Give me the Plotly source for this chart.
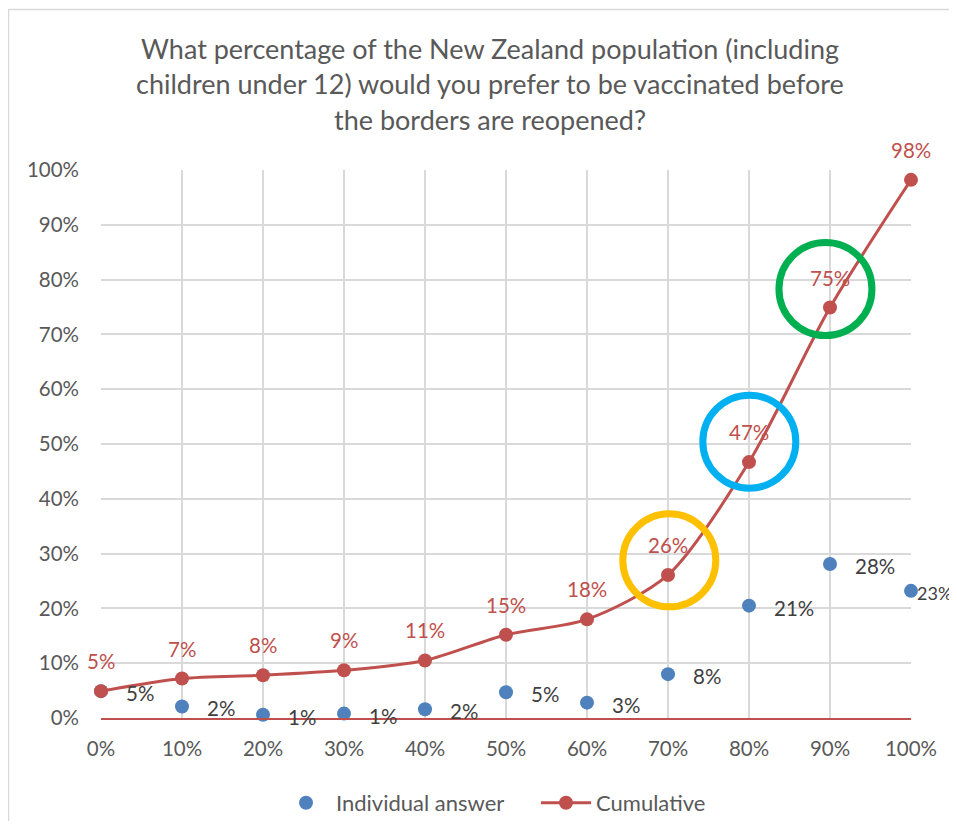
import plotly.graph_objects as go

# ---- data ----
categories = [0.0, 0.1, 0.2, 0.3, 0.4, 0.5, 0.6, 0.7, 0.8, 0.9, 1.0]
individual = [0.049, 0.021, 0.006, 0.008, 0.016, 0.047, 0.028, 0.080, 0.205, 0.281, 0.232]
cumulative = [0.049, 0.072, 0.078, 0.087, 0.105, 0.152, 0.180, 0.261, 0.467, 0.749, 0.982]
individual_labels = ["5%", "2%", "1%", "1%", "2%", "5%", "3%", "8%", "21%", "28%", "23%"]
cumulative_labels = ["5%", "7%", "8%", "9%", "11%", "15%", "18%", "26%", "47%", "75%", "98%"]
title_lines = ["What percentage of the New Zealand population (including",
               "children under 12) would you prefer to be vaccinated before",
               "the borders are reopened?"]
# highlighted points: (x, y, colour)
highlights = [(0.7016, 0.2878, "#FFC000"), (0.8004, 0.5042, "#00B0F0"), (0.8944, 0.7828, "#00B050")]

FONT = "Lato"
BLUE = "#4F81BD"
RED = "#C0504D"
GRID = "#D9D9D9"
TXT = "#595959"

# page has an 8px body margin; plot area sits at image px 101..911 x 170..718
PL, PR, PT, PB = 101, 911, 170, 718
PW, PH = PR - PL, PB - PT
OFF = 8
W, H = 957 - OFF, 837 - 3 * OFF


def px2paper_x(px):
    return (px - PL) / PW


def px2paper_y(py):
    return (PB - py) / PH


fig = go.Figure()
fig.add_trace(go.Scatter(
    x=categories, y=individual, mode="markers", name="Individual answer",
    marker=dict(color=BLUE, size=14), cliponaxis=False))
fig.add_trace(go.Scatter(
    x=categories, y=cumulative, mode="lines+markers", name="Cumulative",
    line=dict(color=RED, width=3, shape="spline", smoothing=0.8),
    marker=dict(color=RED, size=14), cliponaxis=False))

anns = []
last = len(categories) - 1
for i, (x, y, t) in enumerate(zip(categories, individual, individual_labels)):
    anns.append(dict(x=x, y=y, xref="x", yref="y", text=t, showarrow=False,
                     xanchor="left", yanchor="middle",
                     xshift=(4 if i == last else 23), yshift=-2,
                     font=dict(family=FONT, size=(18 if i == last else 20.5), color="#404040")))
for x, y, t in zip(categories, cumulative, cumulative_labels):
    anns.append(dict(x=x, y=y, xref="x", yref="y", text=t, showarrow=False,
                     xanchor="center", yanchor="middle", yshift=30,
                     font=dict(family=FONT, size=20.5, color=RED)))
for k, line in enumerate(title_lines):
    anns.append(dict(x=px2paper_x(489.5), y=px2paper_y(48 + 35.5 * k), xref="paper", yref="paper",
                     text=line, showarrow=False, xanchor="center", yanchor="middle",
                     font=dict(family=FONT, size=27, color=TXT)))

shapes = []
for cx, cy, col in highlights:
    shapes.append(dict(type="circle", xref="x", yref="y", xsizemode="pixel", ysizemode="pixel",
                       xanchor=cx, yanchor=cy, x0=-46.5, x1=46.5, y0=-46.5, y1=46.5,
                       line=dict(color=col, width=7), layer="above"))
# chart-area border (left and top edges visible)
shapes.append(dict(type="line", xref="paper", yref="paper",
                   x0=px2paper_x(8.5), x1=px2paper_x(8.5), y0=px2paper_y(9), y1=px2paper_y(900),
                   line=dict(color=GRID, width=1.5)))
shapes.append(dict(type="line", xref="paper", yref="paper",
                   x0=px2paper_x(8.5), x1=px2paper_x(1000), y0=px2paper_y(9.5), y1=px2paper_y(9.5),
                   line=dict(color=GRID, width=1.5)))

fig.update_layout(
    width=W, height=H,
    margin=dict(l=PL - OFF, r=W - (PR - OFF), t=PT - OFF, b=H - (PB - OFF)),
    paper_bgcolor="white", plot_bgcolor="white",
    font=dict(family=FONT, size=20, color=TXT),
    showlegend=True,
    legend=dict(orientation="h", xref="container", yref="container",
                x=(276 - OFF) / W, xanchor="left", y=1 - (803 - OFF) / H, yanchor="middle",
                font=dict(family=FONT, size=22, color=TXT),
                itemwidth=50, entrywidth=195, entrywidthmode="pixels"),
    annotations=anns, shapes=shapes,
    xaxis=dict(range=[0, 1], dtick=0.1, tick0=0, tickformat=".0%", showgrid=True,
               gridcolor=GRID, gridwidth=1.5, showline=True, linecolor=RED, linewidth=1.5,
               zeroline=False, ticks="", tickfont=dict(family=FONT, size=20.5, color=TXT),
               ticklabelstandoff=12, fixedrange=True),
    yaxis=dict(range=[0, 1], dtick=0.1, tick0=0, tickformat=".0%", showgrid=True,
               gridcolor=GRID, gridwidth=1.5, zeroline=False, showline=False, ticks="",
               tickfont=dict(family=FONT, size=20.5, color=TXT), ticklabelstandoff=21,
               fixedrange=True),
)

fig.write_html("out.html")
